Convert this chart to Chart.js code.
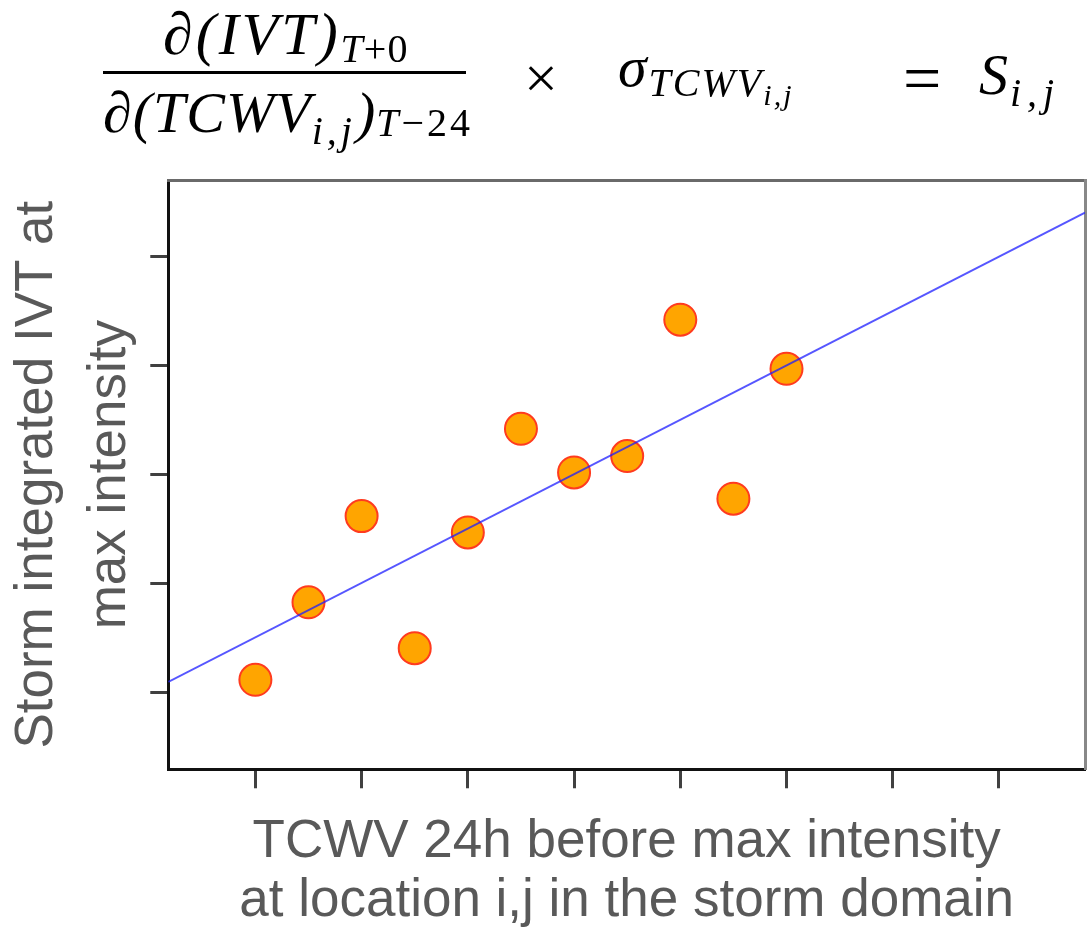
<!DOCTYPE html>
<html>
<head>
<meta charset="utf-8">
<title>TCWV sensitivity</title>
<script src="https://cdn.jsdelivr.net/npm/chart.js@4/dist/chart.umd.min.js"></script>
<style>
    html, body { margin: 0; padding: 0; background: #fff; }
    #wrap { position: relative; width: 1089px; height: 933px; overflow: hidden; }
    #chart { position: absolute; left: 0; top: 0; }
    .f {
        position: absolute;
        font-family: "Liberation Serif", "DejaVu Serif", serif;
        font-style: italic;
        font-size: 58px;
        line-height: 1;
        color: #000;
        white-space: nowrap;
        letter-spacing: 2px;
    }
    .up { font-style: normal; }
    .sub { font-size: 40px; position: relative; letter-spacing: 4px; }
    .subsub { font-size: 30px; position: relative; top: 9px; letter-spacing: 2px; }
    .bar { position: absolute; background: #000; height: 3px; }
</style>
</head>
<body>
<div id="wrap">
    <canvas id="chart" width="1089" height="933"></canvas>

    <!-- formula above the plot -->
    <div class="f" style="left:163px; top:4px; font-size:60px; letter-spacing:3px;">∂(IVT)<span class="sub" style="top:8px; letter-spacing:1px;">T<span class="up">+0</span></span></div>
    <div class="bar" style="left:103px; top:71px; width:363px;"></div>
    <div class="f" style="left:103px; top:84px; letter-spacing:1px;">∂(TCWV<span class="sub" style="top:12px;">i,j</span>)<span class="sub" style="top:4px; letter-spacing:3px;">T<span class="up">−24</span></span></div>
    <div class="f up" style="left:524px; top:48px; font-size:60px;">×</div>
    <div class="f" style="left:618px; top:38px;">σ<span class="sub" style="top:10px; letter-spacing:2px;">TCWV<span class="subsub">i,j</span></span></div>
    <div class="f up" style="left:903px; top:44px; font-size:68px;">=</div>
    <div class="f" style="left:979px; top:46px;">S<span class="sub" style="top:12px; letter-spacing:6px;">i,j</span></div>
</div>

<script>
// values (axis units are arbitrary, tick labels are not shown)
const tcwv = [1, 1.5, 2, 2.5, 3, 3.5, 4, 4.5, 5, 5.5, 6];
const ivt = [1.12, 1.83, 2.62, 1.41, 2.47, 3.42, 3.02, 3.17, 4.42, 2.78, 3.97];

// regression line end points
const fitX = [0.18, 8.81];
const fitY = [1.10, 5.40];

const xRange = [0.18, 8.81];
const yRange = [0.30, 5.70];

const xTitle = ['TCWV 24h before max intensity', 'at location i,j in the storm domain'];
const yTitle = ['Storm integrated IVT at', 'max intensity'];

document.addEventListener('DOMContentLoaded', function() {
    const ctx = document.getElementById('chart').getContext('2d');

    const points = tcwv.map((x, i) => ({ x: x, y: ivt[i] }));
    const fitLine = fitX.map((x, i) => ({ x: x, y: fitY[i] }));

    const titleColor = '#595959';
    const tickGrid = {
        display: true,
        drawOnChartArea: false,
        drawTicks: true,
        tickWidth: 3,
        tickColor: '#404040'
    };

    new Chart(ctx, {
        type: 'scatter',
        data: {
            datasets: [
                {
                    label: 'fit',
                    data: fitLine,
                    showLine: true,
                    borderColor: 'rgba(30,30,255,0.75)',
                    borderWidth: 2,
                    pointRadius: 0,
                    order: 0
                },
                {
                    label: 'storms',
                    data: points,
                    backgroundColor: '#ffa500',
                    borderColor: '#ff3b1f',
                    borderWidth: 2,
                    pointRadius: 16,
                    order: 1
                }
            ]
        },
        options: {
            responsive: false,
            animation: false,
            devicePixelRatio: 1,
            layout: { autoPadding: false, padding: { top: 180, right: 4, left: 0, bottom: 0 } },
            plugins: {
                legend: { display: false },
                tooltip: { enabled: false }
            },
            scales: {
                x: {
                    type: 'linear',
                    position: 'bottom',
                    min: xRange[0],
                    max: xRange[1],
                    ticks: { display: false, stepSize: 1, includeBounds: false },
                    grid: Object.assign({}, tickGrid, { tickLength: 19 }),
                    border: { display: true, color: '#111', width: 3 },
                    title: {
                        display: true,
                        text: xTitle,
                        color: titleColor,
                        font: { family: '"Liberation Sans", Arial, sans-serif', size: 53, lineHeight: 1.12 },
                        padding: { top: 24, bottom: 2 }
                    }
                },
                y: {
                    type: 'linear',
                    position: 'left',
                    min: yRange[0],
                    max: yRange[1],
                    ticks: { display: false, stepSize: 1, includeBounds: false },
                    grid: Object.assign({}, tickGrid, { tickLength: 18 }),
                    border: { display: true, color: '#111', width: 3 },
                    title: {
                        display: true,
                        text: yTitle,
                        color: titleColor,
                        font: { family: '"Liberation Sans", Arial, sans-serif', size: 53, lineHeight: 1.38 },
                        padding: { top: 1, bottom: 3 }
                    }
                },
                // plain frame lines on the other two sides
                xTop: {
                    type: 'linear',
                    position: 'top',
                    display: true,
                    ticks: { display: false },
                    grid: { display: false, drawTicks: false },
                    border: { display: true, color: '#6a6a6a', width: 3 }
                },
                yRight: {
                    type: 'linear',
                    position: 'right',
                    display: true,
                    ticks: { display: false },
                    grid: { display: false, drawTicks: false },
                    border: { display: true, color: '#888', width: 3 }
                }
            }
        }
    });
});
</script>
</body>
</html>
